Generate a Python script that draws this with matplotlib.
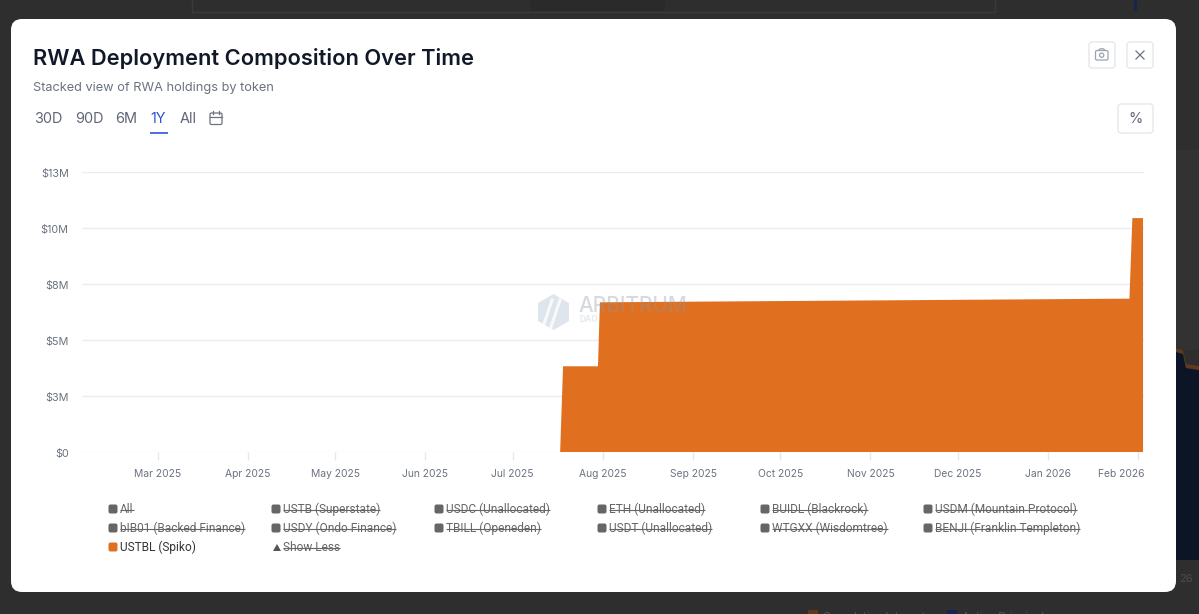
import numpy as np
import pandas as pd
import matplotlib
matplotlib.use('Agg')
import matplotlib.pyplot as plt
from matplotlib.patches import FancyBboxPatch, Rectangle, Polygon, Circle
from matplotlib.transforms import ScaledTranslation

# chart data, values
dates = ['2025-02-03 00:00', '2025-07-17 08:00', '2025-07-18 08:00', '2025-07-30 08:00', '2025-07-31 00:00',
         '2026-01-29 00:00', '2026-01-30 00:00', '2026-02-02 16:00']
ustbl = [0, 0, 3.98e6, 3.98e6, 6.95e6, 7.12e6, 10.86e6, 10.86e6]

y_ticks = [0, 2.6e6, 5.2e6, 7.8e6, 10.4e6, 13e6]
y_labels = ['$0', '$3M', '$5M', '$8M', '$10M', '$13M']
x_ticks = ['2025-03-01', '2025-04-01', '2025-05-01', '2025-06-01', '2025-07-01', '2025-08-01',
           '2025-09-01', '2025-10-01', '2025-11-01', '2025-12-01', '2026-01-01', '2026-02-01']
x_labels = ['Mar 2025', 'Apr 2025', 'May 2025', 'Jun 2025', 'Jul 2025', 'Aug 2025',
            'Sep 2025', 'Oct 2025', 'Nov 2025', 'Dec 2025', 'Jan 2026', 'Feb 2026']

legend_names = ['All', 'USTB (Superstate)', 'USDC (Unallocated)', 'ETH (Unallocated)',
                'BUIDL (Blackrock)', 'USDM (Mountain Protocol)',
                'bIB01 (Backed Finance)', 'USDY (Ondo Finance)', 'TBILL (Openeden)',
                'USDT (Unallocated)', 'WTGXX (Wisdomtree)', 'BENJI (Franklin Templeton)',
                'USTBL (Spiko)']
ranges = ['30D', '90D', '6M', '1Y', 'All']

W, H = 1199, 614
ORANGE = '#e07020'
fig = plt.figure(figsize=(W / 100, H / 100), dpi=100, facecolor='#2e2e2e')

# page layer in pixel coordinates
bg = fig.add_axes([0, 0, 1, 1])
bg.set_xlim(0, W)
bg.set_ylim(H, 0)
bg.axis('off')

# dimmed page behind the modal
bg.add_patch(Rectangle((1176, 150), 23, 200, color='#323232', lw=0))
bg.add_patch(Polygon([(1176, 560), (1176, 348), (1183, 350), (1186, 368), (1199, 370), (1199, 560)],
                     color='#0c1526', lw=0))
bg.add_patch(Polygon([(1176, 348), (1183, 350), (1186, 364), (1199, 366), (1199, 370), (1186, 368), (1183, 354), (1176, 352)],
                     color='#5f3a1e', lw=0))
bg.plot([192, 192, 995, 995], [0, 12, 12, 0], color='#3a3a3a', lw=1)
bg.add_patch(Rectangle((530, 0), 135, 11, color='#2a2a2a', lw=0))
bg.plot([1135, 1135], [0, 9], color='#14264f', lw=2)
bg.text(1179, 579, '26', fontsize=8, color='#4c4c4c', family='Inter', va='center')
bg.add_patch(Rectangle((808, 610), 10, 6, color='#5b3a20', lw=0))
bg.add_patch(Rectangle((947, 610), 10, 6, color='#14264f', lw=0))
bg.text(823, 617, 'Cumulative Interest', fontsize=8, color='#555555', family='Inter', va='center')
bg.text(962, 617, 'Active Principal', fontsize=8, color='#555555', family='Inter', va='center')

# modal card
bg.add_patch(FancyBboxPatch((11, 19), 1165, 573, boxstyle='round,pad=0,rounding_size=11',
                            lw=0, fc='white', mutation_aspect=1))

bg.text(33, 58.5, 'RWA Deployment Composition Over Time', fontsize=15.73, fontweight='semibold',
        family='Inter', color='#111827', va='center')
bg.text(33, 88, 'Stacked view of RWA holdings by token', fontsize=9.2, family='Inter',
        color='#6b7280', va='center')

for name, x in zip(ranges, [48, 89, 126.5, 158, 188]):
    bg.text(x, 119, name, fontsize=10.4, family='Inter', ha='center', va='center',
            color='#2f55d4' if name == '1Y' else '#5f6675')
bg.plot([149.5, 167.5], [132.5, 132.5], color='#2f55d4', lw=1.2, solid_capstyle='butt')

# calendar icon
bg.add_patch(FancyBboxPatch((210, 113), 12, 11.5, boxstyle='round,pad=0,rounding_size=1.5',
                            fc='none', ec='#6b7280', lw=0.9))
bg.plot([210, 222], [116.8, 116.8], color='#6b7280', lw=0.9)
bg.plot([213, 213], [111, 114], color='#6b7280', lw=0.9)
bg.plot([219, 219], [111, 114], color='#6b7280', lw=0.9)

# buttons top right
for x0, y0, w, h in [(1089, 42, 26, 26), (1127, 42, 26, 26), (1118, 104, 35, 29)]:
    bg.add_patch(FancyBboxPatch((x0, y0), w, h, boxstyle='round,pad=0,rounding_size=3',
                                fc='white', ec='#e5e7eb', lw=1))
bg.add_patch(FancyBboxPatch((1095.5, 50.5), 12.5, 9.5, boxstyle='round,pad=0,rounding_size=1.5',
                            fc='none', ec='#9ca3af', lw=0.9))
bg.plot([1098.5, 1100, 1103.5, 1105], [50.5, 48.8, 48.8, 50.5], color='#9ca3af', lw=0.9)
bg.add_patch(Circle((1101.7, 55.2), 2.1, fc='none', ec='#9ca3af', lw=0.9))
bg.plot([1136, 1144], [51, 59], color='#6b7280', lw=0.9)
bg.plot([1136, 1144], [59, 51], color='#6b7280', lw=0.9)
bg.text(1135.5, 119, '%', fontsize=10.5, family='Inter', color='#5f6675', ha='center', va='center')

# chart
ax = fig.add_axes([82 / W, 1 - 452 / H, (1144 - 82) / W, 280 / H])
ax.patch.set_alpha(0)
xs = pd.to_datetime(dates)
ax.stackplot(xs, ustbl, colors=[ORANGE], lw=0, zorder=3)
ax.set_xlim(pd.Timestamp('2025-02-03'), pd.Timestamp('2026-02-03'))
ax.set_ylim(0, 13e6)
ax.set_yticks(y_ticks, y_labels)
ax.set_xticks(pd.to_datetime(x_ticks), x_labels)
ax.grid(axis='y', color='#ececef', lw=1, zorder=1)
ax.set_axisbelow(True)
for s in ax.spines.values():
    s.set_visible(False)
ax.tick_params(axis='y', length=0, pad=9.5, labelsize=7.8, labelcolor='#6b7280')
ax.tick_params(axis='x', length=6, width=1, color='#e5e7eb', pad=6, labelsize=7.4, labelcolor='#6b7280')
for t in ax.get_xticklabels() + ax.get_yticklabels():
    t.set_family('Inter')
for t in ax.get_yticklabels():
    t.set_transform(t.get_transform() + ScaledTranslation(0, -0.01, fig.dpi_scale_trans))
# last label sits left of its tick, inside the plot edge
last = ax.get_xticklabels()[-1]
last.set_transform(last.get_transform() + ScaledTranslation(-0.17, 0, fig.dpi_scale_trans))

# faint watermark
mark = fig.add_axes([0, 0, 1, 1])
mark.set_xlim(0, W)
mark.set_ylim(H, 0)
mark.axis('off')
mark.patch.set_alpha(0)
mark.add_patch(Polygon([(553.5, 294), (569, 303), (569, 321), (553.5, 330), (538, 321), (538, 303)],
                       fc='#8ea3bd', alpha=0.28, lw=0))
for dx in (0, 8):
    mark.plot([543 + dx, 552 + dx], [327, 300], color='white', lw=2.2, alpha=0.8)
mark.text(578, 306.5, 'ARBITRUM', fontsize=15, family='Inter', fontweight='medium', color='#8a97a8',
          alpha=0.35, va='center')
mark.text(579, 320, 'DAO', fontsize=6, family='Inter', fontweight='bold', color='#8a97a8',
          alpha=0.2, va='center')

# legend, every entry struck through except the visible series
col_x = [108.5, 271.5, 434.5, 597.5, 760.5, 923.5]
row_y = [509, 528, 547]
legend_items = []
for i, name in enumerate(legend_names):
    x, y = col_x[i % 6], row_y[i // 6]
    active = name == 'USTBL (Spiko)'
    bg.add_patch(FancyBboxPatch((x, y - 4.5), 9, 9, boxstyle='round,pad=0,rounding_size=2',
                                fc=ORANGE if active else '#666666', lw=0))
    t = bg.text(x + 11.5, y + 0.5, name, fontsize=8.6, family='Roboto', va='center',
                color='#333333' if active else '#666666')
    if not active:
        legend_items.append(t)

bg.add_patch(Polygon([(273, 551), (281, 551), (277, 544)], fc='#555555', lw=0))
legend_items.append(bg.text(283, 547.5, 'Show Less', fontsize=8.6, family='Roboto', va='center', color='#666666'))

fig.canvas.draw()
inv = bg.transData.inverted()
for t in legend_items:
    box = t.get_window_extent()
    (x0, _), (x1, _) = inv.transform([(box.x0, box.y0), (box.x1, box.y0)])
    y = t.get_position()[1] + 0.3
    bg.plot([x0, x1], [y, y], color='#666666', lw=0.8, solid_capstyle='butt')
bg.set_xlim(0, W)
bg.set_ylim(H, 0)

fig.savefig('out.png', dpi=100, facecolor=fig.get_facecolor())
